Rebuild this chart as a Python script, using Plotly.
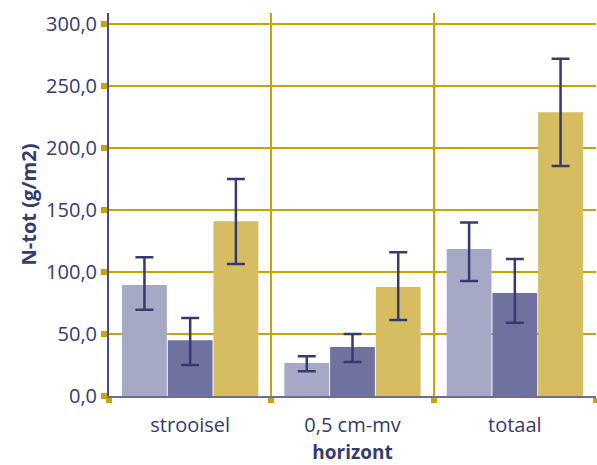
import plotly.graph_objects as go

categories = ["strooisel", "0,5 cm-mv", "totaal"]
values_a = [89.5, 26.6, 118.5]
values_b = [45.0, 39.5, 83.0]
values_c = [141.0, 88.0, 229.0]
upper_a = [112.0, 32.0, 140.0]
lower_a = [69.5, 20.0, 92.7]
upper_b = [63.0, 50.0, 110.5]
lower_b = [25.0, 27.4, 59.0]
upper_c = [175.0, 116.0, 272.0]
lower_c = [106.5, 61.3, 185.5]
y_ticks = [0, 50, 100, 150, 200, 250, 300]
y_tick_labels = ["0,0", "50,0", "100,0", "150,0", "200,0", "250,0", "300,0"]

colors = ["#a6a9c6", "#6f729f", "#d6bd62"]
navy = "#363a6e"
gold = "#c8a400"
font = "Open Sans"

fig = go.Figure()
for vals, up, lo, col in [
    (values_a, upper_a, lower_a, colors[0]),
    (values_b, upper_b, lower_b, colors[1]),
    (values_c, upper_c, lower_c, colors[2]),
]:
    fig.add_trace(go.Bar(
        x=categories, y=vals, marker=dict(color=col, line=dict(width=0)),
        error_y=dict(type="data", symmetric=False,
                     array=[u - v for u, v in zip(up, vals)],
                     arrayminus=[v - l for v, l in zip(vals, lo)],
                     color=navy, thickness=2.5, width=9),
        showlegend=False, hoverinfo="skip",
    ))

fig.update_layout(
    width=597, height=465,
    margin=dict(l=109, r=1, t=13, b=69),
    plot_bgcolor="white", paper_bgcolor="white",
    barmode="group", bargap=0.155, bargroupgap=0.02,
    font=dict(family=font, color=navy),
    xaxis=dict(
        automargin=False,
        tickson="boundaries", showgrid=True, gridcolor=gold, gridwidth=1.5,
        ticks="outside", ticklen=5, tickwidth=6, tickcolor=gold,
        ticklabelstandoff=10,
        showline=True, linecolor="#6a6d95", linewidth=2,
        tickfont=dict(size=20, color=navy, family=font),
        title=dict(text="<b>horizont</b>", font=dict(size=19, color=navy, family=font), standoff=14),
    ),
    yaxis=dict(
        automargin=False,
        range=[0, 309], tickvals=y_ticks, ticktext=y_tick_labels,
        showgrid=True, gridcolor=gold, gridwidth=1.5,
        ticks="outside", ticklen=6, tickwidth=6, tickcolor=gold,
        ticklabelstandoff=0,
        showline=True, linecolor="#4a4d80", linewidth=2, zeroline=False,
        tickfont=dict(size=20, color=navy, family=font),
        title=dict(text="<b>N-tot (g/m2)</b>", font=dict(size=20, color=navy, family=font), standoff=4),
    ),
)

fig.write_html("out.html", config={"displayModeBar": False},
               post_script="document.body.style.margin='0';document.body.style.overflow='hidden';")
